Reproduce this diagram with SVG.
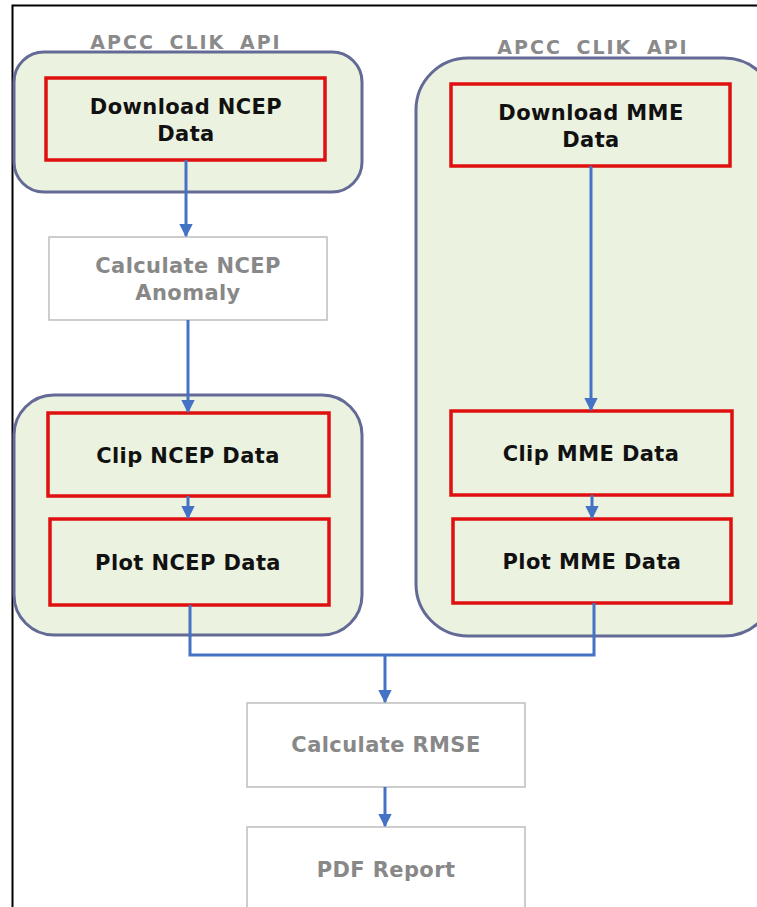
<svg xmlns="http://www.w3.org/2000/svg" width="757" height="907" viewBox="0 0 757 907">
<defs>
<marker id="ah" viewBox="0 0 10 10" refX="9" refY="5" markerWidth="4.5" markerHeight="4.5" orient="auto" markerUnits="strokeWidth">
<path d="M0,0 L10,5 L0,10 z" fill="#4472c4"/>
</marker>
<style>
.grp{fill:#ebf2df;stroke:#646a96;stroke-width:3}
.red{fill:none;stroke:#e01010;stroke-width:3.5}
.gray{fill:#fff;stroke:#bdbdbd;stroke-width:1.5}
.tb{font-family:"DejaVu Sans",sans-serif;font-weight:bold;font-size:21px;fill:#111;text-anchor:middle;letter-spacing:0.4px}
.tg{font-family:"DejaVu Sans",sans-serif;font-weight:bold;font-size:21px;fill:#888;text-anchor:middle;letter-spacing:0.4px}
.tt{font-family:"DejaVu Sans",sans-serif;font-weight:bold;font-size:19px;fill:#8a8a8a;text-anchor:middle;letter-spacing:2px;word-spacing:6px}
.con{fill:none;stroke:#4472c4;stroke-width:3}
</style>
</defs>
<rect width="757" height="907" fill="#fff"/>
<path d="M12.5,907 V5.5 H757" fill="none" stroke="#000" stroke-width="2"/>

<g id="grpNcepTop">
<rect class="grp" x="14" y="52" width="348" height="140" rx="30"/>
<text class="tt" x="186" y="49">APCC CLIK API</text>
</g>
<g id="grpMme">
<rect class="grp" x="416" y="58" width="360" height="578" rx="52"/>
<text class="tt" x="593" y="54">APCC CLIK API</text>
</g>
<g id="grpNcepBottom">
<rect class="grp" x="14" y="395" width="348" height="240" rx="40"/>
</g>

<g id="dlNcep">
<rect class="red" x="46" y="78" width="279" height="82"/>
<text class="tb" x="186" y="114">Download NCEP</text>
<text class="tb" x="186" y="141">Data</text>
</g>
<g id="calcAnom">
<rect class="gray" x="49" y="237" width="278" height="83"/>
<text class="tg" x="188" y="273">Calculate NCEP</text>
<text class="tg" x="188" y="300">Anomaly</text>
</g>
<g id="clipNcep">
<rect class="red" x="48" y="413" width="281" height="83"/>
<text class="tb" x="188" y="463">Clip NCEP Data</text>
</g>
<g id="plotNcep">
<rect class="red" x="50" y="519" width="279" height="86"/>
<text class="tb" x="188" y="570">Plot  NCEP Data</text>
</g>
<g id="dlMme">
<rect class="red" x="451" y="84" width="279" height="82"/>
<text class="tb" x="591" y="120">Download MME</text>
<text class="tb" x="591" y="147">Data</text>
</g>
<g id="clipMme">
<rect class="red" x="451" y="411" width="281" height="84"/>
<text class="tb" x="591" y="461">Clip MME Data</text>
</g>
<g id="plotMme">
<rect class="red" x="453" y="519" width="278" height="84"/>
<text class="tb" x="592" y="569">Plot  MME Data</text>
</g>
<g id="rmse">
<rect class="gray" x="247" y="703" width="278" height="84"/>
<text class="tg" x="386" y="752">Calculate RMSE</text>
</g>
<g id="pdf">
<rect class="gray" x="247" y="827" width="278" height="90"/>
<text class="tg" x="386" y="877">PDF Report</text>
</g>

<g id="connectors">
<path class="con" d="M186,160 V236" marker-end="url(#ah)"/>
<path class="con" d="M188,320 V412" marker-end="url(#ah)"/>
<path class="con" d="M188,496 V518" marker-end="url(#ah)"/>
<path class="con" d="M591,166 V410" marker-end="url(#ah)"/>
<path class="con" d="M592,495 V518" marker-end="url(#ah)"/>
<path class="con" d="M190,605 V655 H594 V603"/>
<path class="con" d="M385,655 V702" marker-end="url(#ah)"/>
<path class="con" d="M385,787 V826" marker-end="url(#ah)"/>
</g>
</svg>
